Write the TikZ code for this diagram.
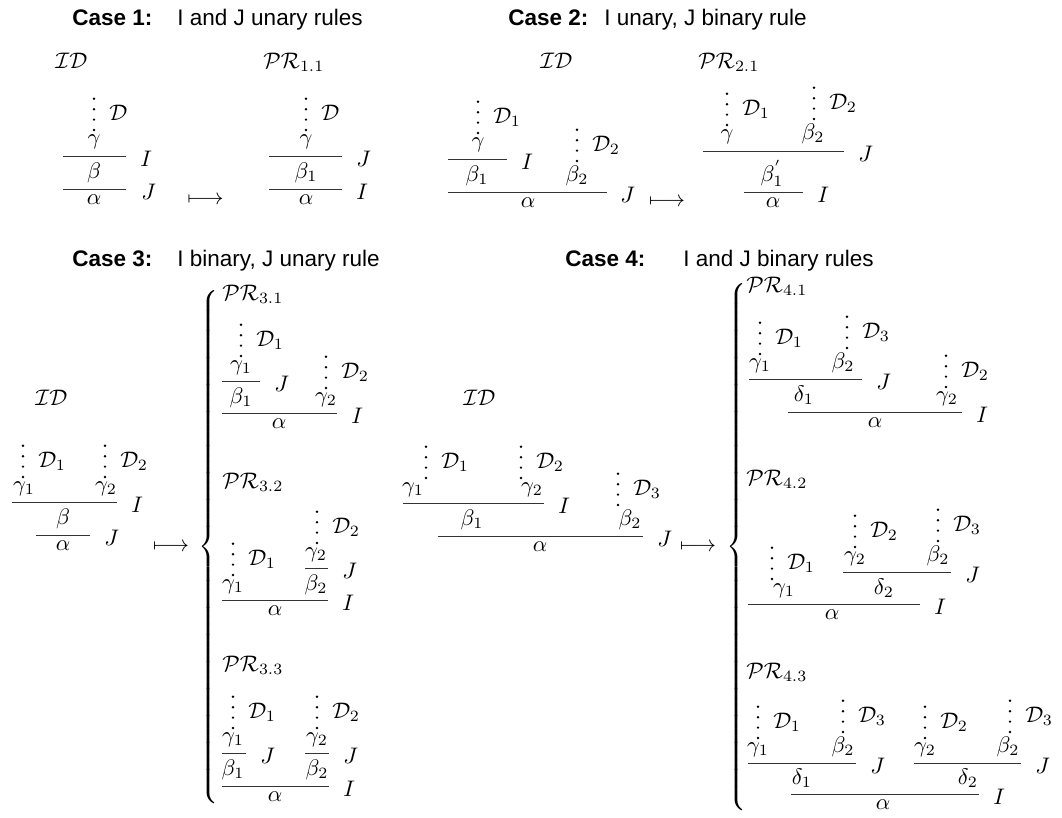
\documentclass[tikz,border=0pt]{standalone}
\usepackage{fontspec}
\setsansfont{Liberation Sans}
\tikzset{
  fm/.style={anchor=base, inner sep=0pt},
  lb/.style={anchor=base west, inner sep=0pt},
  ttl/.style={anchor=base west, inner sep=0pt, font=\sffamily},
  rl/.style={line width=0.45pt, black!80},
  arr/.style={anchor=center, inner sep=0pt},
  brc/.style={anchor=west, inner sep=0pt}
}
\newcommand{\F}[4]{\node[fm] (#1) at (#2,#3) {$#4$};}
\newcommand{\Lb}[4]{\node[lb] (#1) at (#2,#3) {$#4$};}
\newcommand{\Rl}[3]{\draw[rl] (#1,#3) -- (#2,#3);}
\newcommand{\Dt}[4]{%
  \foreach \k in {0,1,2,3}{\fill (#2,#3-\k*10.4) circle[radius=0.6pt];}
  \node[lb] (#1) at (#2+15,#3-10) {$#4$};}
\begin{document}
\begin{tikzpicture}[x=0.4444pt,y=-0.4444pt]
\useasboundingbox (0,0) rectangle (1062,817);
% titles
\node[ttl] (t1a) at (72,25) {\textbf{Case 1:}};
\node[ttl] (t1b) at (177,25) {I and J unary rules};
\node[ttl] (t2a) at (508,25) {\textbf{Case 2:}};
\node[ttl] (t2b) at (604,25) {I unary, J binary rule};
\node[ttl] (t3a) at (72,266) {\textbf{Case 3:}};
\node[ttl] (t3b) at (177,266) {I binary, J unary rule};
\node[ttl] (t4a) at (565,266) {\textbf{Case 4:}};
\node[ttl] (t4b) at (683,266) {I and J binary rules};
% ===== Case 1 =====
\Lb{id1}{55}{68}{\mathcal{ID}}
\Lb{pr11}{263}{68}{\mathcal{PR}_{1.1}}
\Dt{d1}{94}{130}{\mathcal{D}}
\F{g1}{94}{144}{\gamma}
\Rl{63}{126}{156}
\Lb{l1a}{140}{166}{I}
\F{b1}{94}{178}{\beta}
\Rl{63}{126}{189}
\Lb{l1b}{141}{199}{J}
\F{a1}{94}{204}{\alpha}
\node[arr] (ar1) at (205.5,200) {$\longmapsto$};
\Dt{d1r}{306}{130}{\mathcal{D}}
\F{g1r}{306}{144}{\gamma}
\Rl{269}{342}{156}
\Lb{l1c}{356}{166}{J}
\F{b1r}{306}{178}{\beta_1}
\Rl{269}{342}{189}
\Lb{l1d}{356}{199}{I}
\F{a1r}{306}{204}{\alpha}
% ===== Case 2 =====
\Lb{id2}{540}{68}{\mathcal{ID}}
\Lb{pr21}{698}{68}{\mathcal{PR}_{2.1}}
\Dt{d2a}{478}{133}{\mathcal{D}_1}
\F{g2}{478}{147}{\gamma}
\Rl{448}{507}{159}
\Lb{l2a}{521}{169}{I}
\F{b21}{477}{181}{\beta_1}
\Dt{d2b}{577}{161}{\mathcal{D}_2}
\F{b22}{577}{181}{\beta_2}
\Rl{448}{607}{192}
\Lb{l2b}{620}{202}{J}
\F{a2}{528}{207}{\alpha}
\node[arr] (ar2) at (667,202) {$\longmapsto$};
\Dt{d2c}{727}{125}{\mathcal{D}_1}
\F{g2r}{727}{139}{\gamma}
\Dt{d2d}{814}{119}{\mathcal{D}_2}
\F{b22r}{813}{139}{\beta_2}
\Rl{703}{844}{151}
\Lb{l2c}{858}{161}{J}
\F{b21r}{772}{181}{\beta_1^{'}}
\Rl{744}{803}{192}
\Lb{l2d}{817}{202}{I}
\F{a2r}{773}{207}{\alpha}
% ===== Case 3 =====
\Lb{id3}{35}{405}{\mathcal{ID}}
\Dt{d3a}{23}{477}{\mathcal{D}_1}
\F{g31}{24}{491}{\gamma_1}
\Dt{d3b}{105}{477}{\mathcal{D}_2}
\F{g32}{106}{491}{\gamma_2}
\Rl{12}{117}{502}
\Lb{l3a}{131}{512}{I}
\F{b3}{63}{524}{\beta}
\Rl{36}{90}{535}
\Lb{l3b}{104}{545}{J}
\F{a3}{63}{550}{\alpha}
\node[arr] (ar3) at (171,547) {$\longmapsto$};
\node[brc] (br3) at (198,547) {$\delimiterfactor=1000\delimitershortfall=0pt\left\{\vrule height 116.5pt depth 111.5pt width 0pt\right.$};
% PR 3.1
\Lb{pr31}{222}{300}{\mathcal{PR}_{3.1}}
\Dt{d31a}{241}{356}{\mathcal{D}_1}
\F{g311}{241}{370}{\gamma_1}
\Rl{222}{260}{381}
\Lb{l31a}{274}{391}{J}
\F{b311}{241}{403}{\beta_1}
\Dt{d31b}{326}{388}{\mathcal{D}_2}
\F{g312}{326}{402}{\gamma_2}
\Rl{222}{337}{413}
\Lb{l31b}{351}{423}{I}
\F{a31}{279}{428}{\alpha}
% PR 3.2
\Lb{pr32}{222}{488}{\mathcal{PR}_{3.2}}
\Dt{d32b}{317}{543}{\mathcal{D}_2}
\F{g322}{316}{557}{\gamma_2}
\Rl{305}{328}{568}
\Lb{l32a}{342}{578}{J}
\F{b322}{316}{590}{\beta_2}
\Dt{d32a}{233}{575}{\mathcal{D}_1}
\F{g321}{233}{589}{\gamma_1}
\Rl{222}{328}{600}
\Lb{l32b}{342}{610}{I}
\F{a32}{275}{615}{\alpha}
% PR 3.3
\Lb{pr33}{222}{671}{\mathcal{PR}_{3.3}}
\Dt{d33a}{233}{728}{\mathcal{D}_1}
\F{g331}{233}{742}{\gamma_1}
\Rl{222}{246}{753}
\Lb{l33a}{260}{763}{J}
\F{b331}{233}{775}{\beta_1}
\Dt{d33b}{317}{728}{\mathcal{D}_2}
\F{g332}{317}{742}{\gamma_2}
\Rl{305}{329}{753}
\Lb{l33b}{343}{763}{J}
\F{b332}{317}{775}{\beta_2}
\Rl{222}{329}{786}
\Lb{l33c}{343}{796}{I}
\F{a33}{275}{801}{\alpha}
% ===== Case 4 =====
\Lb{id4}{463}{405}{\mathcal{ID}}
\Dt{d4a}{426}{478}{\mathcal{D}_1}
\F{g41}{413}{492}{\gamma_1}
\Dt{d4b}{521}{478}{\mathcal{D}_2}
\F{g42}{532}{492}{\gamma_2}
\Rl{403}{544}{503}
\Lb{l4a}{558}{513}{I}
\F{b41}{472}{525}{\beta_1}
\Dt{d4c}{618}{505}{\mathcal{D}_3}
\F{b42}{630}{525}{\beta_2}
\Rl{438}{643}{536}
\Lb{l4b}{657}{546}{J}
\F{a4}{540}{551}{\alpha}
\node[arr] (ar4) at (698,547) {$\longmapsto$};
\node[brc] (br4) at (726,547) {$\delimiterfactor=1000\delimitershortfall=0pt\left\{\vrule height 119.3pt depth 114.3pt width 0pt\right.$};
% PR 4.1
\Lb{pr41}{746}{292}{\mathcal{PR}_{4.1}}
\Dt{d41a}{760}{354}{\mathcal{D}_1}
\F{g411}{760}{368}{\gamma_1}
\Dt{d41c}{847}{348}{\mathcal{D}_3}
\F{b412}{843}{368}{\beta_2}
\Rl{749}{862}{379}
\Lb{l41a}{876}{389}{J}
\F{e411}{804}{401}{\delta_1}
\Dt{d41b}{946}{387}{\mathcal{D}_2}
\F{g412}{947}{401}{\gamma_2}
\Rl{788}{962}{412}
\Lb{l41b}{976}{422}{I}
\F{a41}{875}{427}{\alpha}
% PR 4.2
\Lb{pr42}{746}{485}{\mathcal{PR}_{4.2}}
\Dt{d42b}{855}{547}{\mathcal{D}_2}
\F{g422}{855}{561}{\gamma_2}
\Dt{d42c}{938}{541}{\mathcal{D}_3}
\F{b422}{938}{561}{\beta_2}
\Rl{843}{951}{572}
\Lb{l42a}{965}{582}{J}
\F{e422}{884}{594}{\delta_2}
\Dt{d42a}{772}{579}{\mathcal{D}_1}
\F{g421}{784}{593}{\gamma_1}
\Rl{748}{920}{604}
\Lb{l42b}{934}{614}{I}
\F{a42}{832}{619}{\alpha}
% PR 4.3
\Lb{pr43}{746}{678}{\mathcal{PR}_{4.3}}
\Dt{d43a}{758}{738}{\mathcal{D}_1}
\F{g431}{758}{752}{\gamma_1}
\Dt{d43c}{843}{732}{\mathcal{D}_3}
\F{b431}{843}{752}{\beta_2}
\Rl{748}{856}{763}
\Lb{l43a}{870}{773}{J}
\Dt{d43b}{925}{738}{\mathcal{D}_2}
\F{g432}{925}{752}{\gamma_2}
\Dt{d43d}{1010}{732}{\mathcal{D}_3}
\F{b432}{1008}{752}{\beta_2}
\Rl{914}{1021}{763}
\Lb{l43b}{1035}{773}{J}
\F{e431}{802}{784}{\delta_1}
\F{e432}{968}{784}{\delta_2}
\Rl{791}{979}{794}
\Lb{l43c}{993}{804}{I}
\F{a43}{883}{809}{\alpha}
\end{tikzpicture}
\end{document}
